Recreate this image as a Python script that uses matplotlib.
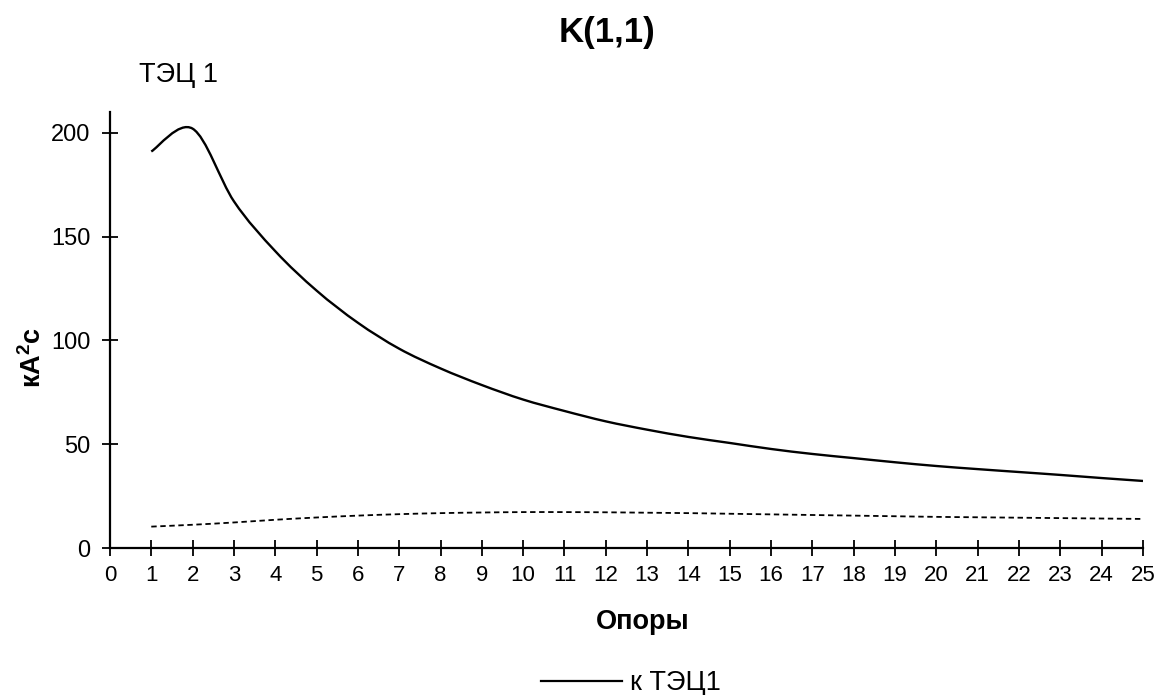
import numpy as np
import matplotlib.pyplot as plt
from matplotlib.path import Path
from matplotlib.patches import PathPatch
from matplotlib.lines import Line2D

plt.rcParams['font.family'] = ['Liberation Sans', 'DejaVu Sans']
plt.rcParams['mathtext.fontset'] = 'custom'
plt.rcParams['mathtext.rm'] = 'Liberation Sans'
plt.rcParams['mathtext.bf'] = 'Liberation Sans:bold'

# опоры 1..25
supports = list(range(1, 26))
# к ТЭЦ1, кА^2*с
k_tec1 = [191, 202, 167, 143, 124, 108.5, 96, 86.5, 78.5, 71.5, 66, 61, 57, 53.5,
          50.6, 47.7, 45.3, 43.3, 41.3, 39.5, 38, 36.6, 35.2, 33.7, 32.3]
# второй ряд (пунктир)
k_other = [10.3, 11.2, 12.3, 13.6, 14.7, 15.6, 16.3, 16.8, 17.1, 17.3, 17.3, 17.2,
           17.0, 16.8, 16.5, 16.2, 15.9, 15.6, 15.3, 15.0, 14.8, 14.6, 14.4, 14.2, 14.0]


def smooth_path(xs, ys):
    # сглаженная линия как в Excel: кривые Безье по точкам (Catmull-Rom)
    p = np.column_stack([xs, ys]).astype(float)
    n = len(p)
    verts = [p[0]]
    codes = [Path.MOVETO]
    for i in range(n - 1):
        p0 = p[i - 1] if i > 0 else p[i]
        p3 = p[i + 2] if i + 2 < n else p[i + 1]
        c1 = p[i] + (p[i + 1] - p0) / 6
        c2 = p[i + 1] - (p3 - p[i]) / 6
        verts += [c1, c2, p[i + 1]]
        codes += [Path.CURVE4] * 3
    return Path(verts, codes)


fig = plt.figure(figsize=(11.61, 6.95), dpi=100)
ax = fig.add_axes([0.0947, 0.2115, 0.8898, 0.6273])

ax.add_patch(PathPatch(smooth_path(supports, k_tec1), fill=False,
                       color='black', lw=1.7))
ax.add_patch(PathPatch(smooth_path(supports, k_other), fill=False,
                       color='black', lw=1.3, ls=(0, (3, 2))))

ax.set_xlim(0, 25)
ax.set_ylim(0, 210)
ax.set_xticks(range(0, 26))
ax.set_yticks(range(0, 201, 50))
ax.tick_params(direction='inout', length=12, width=1.3, labelsize=16)
ax.tick_params(axis='x', pad=6)
ax.tick_params(axis='y', pad=8, labelsize=17)
for s in ['top', 'right']:
    ax.spines[s].set_visible(False)
for s in ['left', 'bottom']:
    ax.spines[s].set_linewidth(1.6)

ax.set_xlabel('Опоры', fontsize=19.5, fontweight='bold', va='center')
ax.xaxis.set_label_coords(0.516, -0.170)
ax.set_ylabel('кА$^\\mathbf{2}$с', fontsize=19.5, fontweight='bold', va='center')
ax.yaxis.set_label_coords(-0.074, 0.436)

fig.text(0.523, 0.953, 'K(1,1)', ha='center', va='center',
         fontsize=25, fontweight='bold')
fig.text(0.12, 0.892, 'ТЭЦ 1', ha='left', va='center', fontsize=19.5)

handle = Line2D([], [], color='black', lw=1.6)
fig.legend([handle], ['к ТЭЦ1'], loc='center', bbox_to_anchor=(0.5435, 0.017),
           frameon=False, fontsize=19.5, handlelength=3.0, handletextpad=0.3,
           borderpad=0, borderaxespad=0)

fig.savefig('out.png', dpi=100)
